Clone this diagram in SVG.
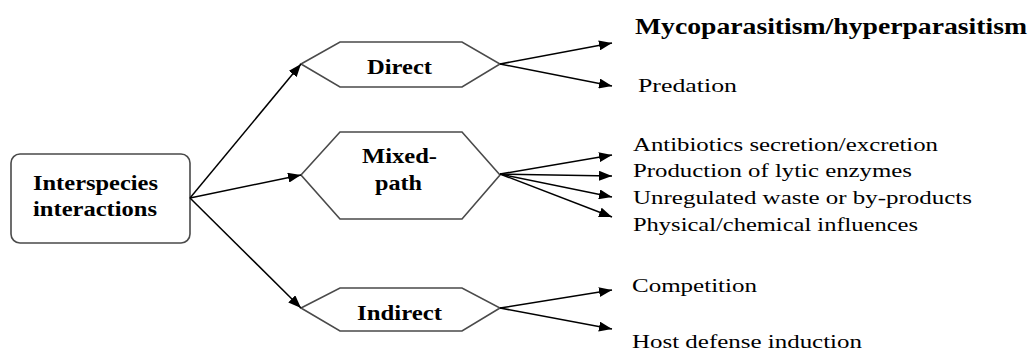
<svg xmlns="http://www.w3.org/2000/svg" width="1033" height="352" viewBox="0 0 1033 352">
<defs>
<style>
.box{fill:#fff;stroke:#4a4a4a;stroke-width:1.6}
.lbl{font-family:"Liberation Serif","Times New Roman",serif;font-weight:bold;font-size:22px;fill:#000}
.txt{font-family:"Liberation Serif","Times New Roman",serif;font-size:19px;fill:#000}
.ttl{font-family:"Liberation Serif","Times New Roman",serif;font-weight:bold;font-size:24px;fill:#000}
.conn line{stroke:#000;stroke-width:1.5;marker-end:url(#ah)}
</style>
<marker id="ah" markerUnits="userSpaceOnUse" markerWidth="14" markerHeight="10" refX="13" refY="5" orient="auto">
<path d="M0,0 L13,5 L0,10 z" fill="#000"/>
</marker>
</defs>
<rect width="1033" height="352" fill="#fff"/>
<g id="interspecies">
<rect class="box" x="11" y="154" width="179" height="89" rx="9"/>
<text class="lbl" x="33" y="190" textLength="125" lengthAdjust="spacingAndGlyphs">Interspecies</text>
<text class="lbl" x="33" y="216" textLength="124" lengthAdjust="spacingAndGlyphs">interactions</text>
</g>
<g id="direct">
<polygon class="box" points="301,64 340,42 462,42 500,64 462,87 340,87"/>
<text class="lbl" x="367" y="74" textLength="65" lengthAdjust="spacingAndGlyphs">Direct</text>
</g>
<g id="mixed">
<polygon class="box" points="301,175 340,132 462,132 500,175 462,219 340,219"/>
<text class="lbl" x="362" y="163" textLength="75" lengthAdjust="spacingAndGlyphs">Mixed-</text>
<text class="lbl" x="375" y="190" textLength="47" lengthAdjust="spacingAndGlyphs">path</text>
</g>
<g id="indirect">
<polygon class="box" points="301,308 340,288 462,288 500,308 462,331 340,331"/>
<text class="lbl" x="357" y="320" textLength="85" lengthAdjust="spacingAndGlyphs">Indirect</text>
</g>
<g id="outcomes">
<text class="ttl" x="635" y="34" textLength="392" lengthAdjust="spacingAndGlyphs">Mycoparasitism/hyperparasitism</text>
<text class="txt" x="638" y="92" textLength="99" lengthAdjust="spacingAndGlyphs">Predation</text>
<text class="txt" x="633" y="151" textLength="305" lengthAdjust="spacingAndGlyphs">Antibiotics secretion/excretion</text>
<text class="txt" x="633" y="177" textLength="279" lengthAdjust="spacingAndGlyphs">Production of lytic enzymes</text>
<text class="txt" x="633" y="204" textLength="339" lengthAdjust="spacingAndGlyphs">Unregulated waste or by-products</text>
<text class="txt" x="633" y="231" textLength="285" lengthAdjust="spacingAndGlyphs">Physical/chemical influences</text>
<text class="txt" x="632" y="292" textLength="125" lengthAdjust="spacingAndGlyphs">Competition</text>
<text class="txt" x="632" y="348" textLength="230" lengthAdjust="spacingAndGlyphs">Host defense induction</text>
</g>
<g id="connectors" class="conn">
<line x1="190" y1="198" x2="301" y2="64"/>
<line x1="190" y1="198" x2="301" y2="175"/>
<line x1="190" y1="198" x2="301" y2="308"/>
<line x1="500" y1="64" x2="612" y2="43"/>
<line x1="500" y1="64" x2="612" y2="86"/>
<line x1="500" y1="174" x2="612" y2="155"/>
<line x1="500" y1="174" x2="612" y2="176"/>
<line x1="500" y1="174" x2="612" y2="197"/>
<line x1="500" y1="174" x2="612" y2="217"/>
<line x1="500" y1="308" x2="612" y2="290"/>
<line x1="500" y1="308" x2="612" y2="329"/>
</g>
</svg>
